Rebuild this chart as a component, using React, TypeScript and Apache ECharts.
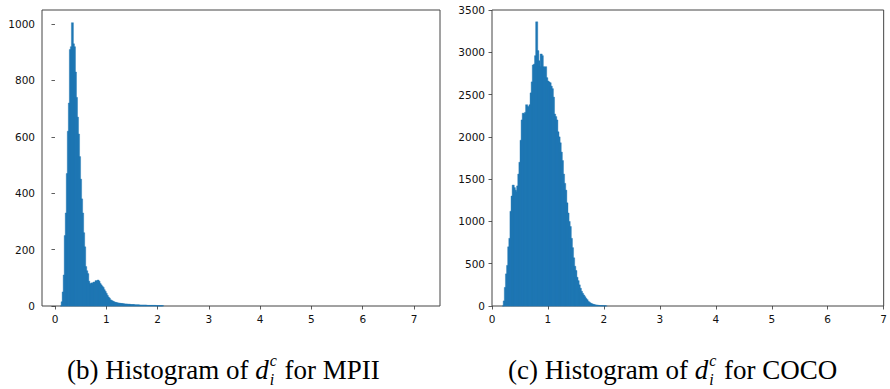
import React, { useEffect, useRef } from "react";
import * as echarts from "echarts";

// ---- data ----
const binWidth = 0.02;
const mpiiStart = 0.1;
const mpiiCounts = [
  0, 15, 50, 110, 250, 330, 470, 620, 720, 910,
  920, 1005, 930, 920, 830, 740, 670, 610, 530, 450,
  380, 330, 260, 210, 140, 125, 115, 88, 80, 76,
  82, 78, 85, 80, 90, 85, 92, 88, 80, 75,
  70, 66, 58, 52, 45, 38, 32, 28, 22, 20,
  18, 16, 14, 13, 12, 11, 10, 10, 9, 9,
  8, 8, 7, 7, 7, 6, 6, 6, 5, 5,
  5, 5, 4, 4, 4, 4, 4, 3, 3, 3,
  3, 3, 3, 3, 2, 2, 2, 2, 2, 2,
  2, 2, 2, 1, 1, 1, 1, 1, 1, 1,
];
const cocoStart = 0.18;
const cocoCounts = [
  0, 60, 220, 380, 480, 700, 800, 1120, 1300, 1430,
  1400, 1370, 1350, 1420, 1560, 1700, 1960, 2200, 2280, 2270,
  2290, 2380, 2360, 2350, 2380, 2520, 2650, 2850, 2860, 2960,
  3360, 3020, 2900, 2830, 2980, 2960, 2830, 2820, 2830, 2700,
  2660, 2650, 2640, 2600, 2570, 2470, 2270, 2240, 2200, 2060,
  2000, 1930, 1820, 1720, 1560, 1450, 1370, 1220, 1100, 1000,
  940, 800, 690, 570, 470, 420, 340, 300, 250, 210,
  175, 150, 130, 110, 90, 75, 55, 45, 35, 28,
  22, 18, 14, 12, 10, 8, 6, 5, 4, 3,
  3, 2, 1,
];
const xTicks = [0, 1, 2, 3, 4, 5, 6, 7];
const mpiiYTicks = [0, 200, 400, 600, 800, 1000];
const cocoYTicks = [0, 500, 1000, 1500, 2000, 2500, 3000, 3500];
const captionB = ["(b) Histogram of ", "d", "c", "i", " for MPII"];
const captionC = ["(c) Histogram of ", "d", "c", "i", " for COCO"];

const BLUE = "#1f77b4";
const TICK_FONT = "DejaVu Sans";

function toBins(start: number, counts: number[]) {
  return counts.map((c, i) => [
    +(start + i * binWidth).toFixed(4),
    +(start + (i + 1) * binWidth).toFixed(4),
    c,
  ]);
}

function measure(text: string, font: string) {
  const cv = document.createElement("canvas");
  const ctx = cv.getContext("2d")!;
  ctx.font = font;
  return ctx.measureText(text).width;
}

function captionElements(x: number, y: number, parts: string[]) {
  const main = '27px "Liberation Serif"';
  const ital = 'italic 27px "Liberation Serif"';
  const small = 'italic 16px "Liberation Serif"';
  const [pre, d, sup, sub, post] = parts;
  const wPre = measure(pre, main);
  const wD = measure(d, ital);
  const wS = Math.max(measure(sup, small), measure(sub, small));
  const xd = x + wPre;
  const xs = xd + wD + 1;
  const xp = xs + wS + 1;
  const base = { fill: "#000", verticalAlign: "middle", align: "left" };
  return [
    { type: "text", x, y, style: { ...base, text: pre, font: main } },
    { type: "text", x: xd, y, style: { ...base, text: d, font: ital } },
    { type: "text", x: xs, y: y - 10, style: { ...base, text: sup, font: small, lineHeight: 16 } },
    { type: "text", x: xs, y: y + 9, style: { ...base, text: sub, font: small, lineHeight: 16 } },
    { type: "text", x: xp, y, style: { ...base, text: post, font: main } },
  ];
}

const renderBar = (params: any, api: any) => {
  const x0 = api.value(0);
  const x1 = api.value(1);
  const v = api.value(2);
  const p0 = api.coord([x0, v]);
  const p1 = api.coord([x1, 0]);
  return {
    type: "rect",
    shape: { x: p0[0], y: p0[1], width: p1[0] - p0[0] + 1, height: p1[1] - p0[1] },
    style: { fill: BLUE, stroke: BLUE, lineWidth: 0.4 },
  };
};

export default function App() {
  const ref = useRef<HTMLDivElement>(null);
  useEffect(() => {
    document.body.style.margin = "0";
    const chart = echarts.init(ref.current!, undefined, { renderer: "svg" });
    const axisLabel = (vals: number[]) => ({
      customValues: vals,
      fontFamily: TICK_FONT,
      fontSize: 10.5,
      color: "#111",
      margin: 7,
      formatter: (v: number) => String(v),
    });
    const tick = (vals: number[]) => ({
      show: true,
      customValues: vals,
      length: 3.5,
      inside: false,
      lineStyle: { color: "#333", width: 0.8 },
    });
    const gridBase = {
      show: true,
      borderColor: "#444",
      borderWidth: 1,
      backgroundColor: "#fff",
      containLabel: false,
    };
    chart.setOption({
      animation: false,
      grid: [
        { ...gridBase, left: 42, top: 10, width: 398, height: 296 },
        { ...gridBase, left: 492, top: 10, width: 397, height: 296 },
      ],
      xAxis: [
        {
          type: "value", gridIndex: 0, min: -0.253, max: 7.506,
          splitLine: { show: false }, axisLine: { show: false },
          axisTick: tick(xTicks), axisLabel: axisLabel(xTicks),
        },
        {
          type: "value", gridIndex: 1, min: 0, max: 7,
          splitLine: { show: false }, axisLine: { show: false },
          axisTick: tick(xTicks), axisLabel: axisLabel(xTicks),
        },
      ],
      yAxis: [
        {
          type: "value", gridIndex: 0, min: 0, max: 1050,
          splitLine: { show: false }, axisLine: { show: false },
          axisTick: tick(mpiiYTicks), axisLabel: axisLabel(mpiiYTicks),
        },
        {
          type: "value", gridIndex: 1, min: 0, max: 3500,
          splitLine: { show: false }, axisLine: { show: false },
          axisTick: tick(cocoYTicks), axisLabel: axisLabel(cocoYTicks),
        },
      ],
      series: [
        {
          type: "custom", xAxisIndex: 0, yAxisIndex: 0,
          encode: { x: [0, 1], y: 2 },
          data: toBins(mpiiStart, mpiiCounts),
          renderItem: renderBar,
        },
        {
          type: "custom", xAxisIndex: 1, yAxisIndex: 1,
          encode: { x: [0, 1], y: 2 },
          data: toBins(cocoStart, cocoCounts),
          renderItem: renderBar,
        },
      ],
      graphic: [
        ...captionElements(67, 370, captionB),
        ...captionElements(508, 370, captionC),
      ],
    });
    return () => chart.dispose();
  }, []);
  return <div ref={ref} style={{ width: 890, height: 389 }} />;
}
